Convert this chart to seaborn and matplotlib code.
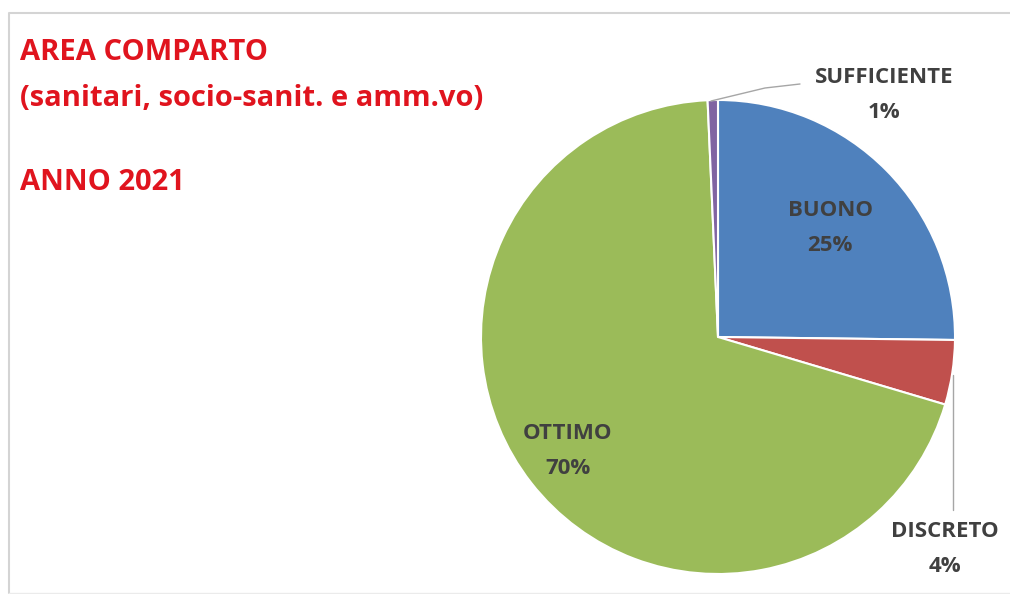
import matplotlib
matplotlib.use("Agg")
import matplotlib.pyplot as plt
import seaborn as sns
from matplotlib.lines import Line2D

# Data (clockwise from 12 o'clock)
categories = ['BUONO', 'DISCRETO', 'OTTIMO', 'SUFFICIENTE']
values = [25.2, 4.4, 69.7, 0.7]
slice_colors = ['#4F81BD', '#C0504D', '#9BBB59', '#8064A2']
title_lines = ['AREA COMPARTO', '(sanitari, socio-sanit. e amm.vo)', '', 'ANNO 2021']

sns.set_theme(style='white')
plt.rcParams['font.family'] = ['Open Sans', 'DejaVu Sans']

W, H = 1010, 594
fig = plt.figure(figsize=(W / 100, H / 100), dpi=100)
fig.patch.set_facecolor('white')

# light grey chart-area border (left, top, bottom)
bx = [9 / W, 9 / W, 1.0]
by = [1 - 593 / H, 1 - 13 / H, 1 - 13 / H]
fig.lines.append(Line2D(bx, by, transform=fig.transFigure, color='#D4D4D4', linewidth=1.5))
fig.lines.append(Line2D([9 / W, 1.0], [1 - 593 / H] * 2, transform=fig.transFigure,
                        color='#EBEBEB', linewidth=1))

# pie axes: centre (718, 337), radius 237 px
cx, cy, r = 718, 337, 237
ax = fig.add_axes([(cx - r) / W, (H - cy - r) / H, 2 * r / W, 2 * r / H])
wedges, _ = ax.pie(values, colors=sns.color_palette(slice_colors), startangle=90,
                   counterclock=False, wedgeprops=dict(edgecolor='white', linewidth=1.5))
ax.set_xlim(-1, 1)
ax.set_ylim(-1, 1)
ax.set_aspect('equal')
ax.axis('off')


def px(x, y):
    return ((x - cx) / r, (cy - y) / r)


label_color = '#404040'
lbl = {c: f"{c}\n{round(v)}%" for c, v in zip(categories, values)}
fs = 16
ls = 1.85
ax.text(*px(830, 228), lbl['BUONO'], ha='center', va='center', fontsize=fs,
        fontweight='bold', color=label_color, linespacing=ls)
ax.text(*px(568, 451), lbl['OTTIMO'], ha='center', va='center', fontsize=fs,
        fontweight='bold', color=label_color, linespacing=ls)
ax.text(*px(884, 95), lbl['SUFFICIENTE'], ha='center', va='center', fontsize=fs,
        fontweight='bold', color=label_color, linespacing=ls, clip_on=False)
ax.text(*px(945, 549), lbl['DISCRETO'], ha='center', va='center', fontsize=fs,
        fontweight='bold', color=label_color, linespacing=ls, clip_on=False)

# leader lines
lx, ly = zip(px(711, 101), px(765, 88), px(800, 84))
ax.plot(lx, ly, color='#A6A6A6', linewidth=1, clip_on=False)
lx, ly = zip(px(953, 375), px(953, 510))
ax.plot(lx, ly, color='#A6A6A6', linewidth=1, clip_on=False)

# title block in red
title_y = [53, 99, 141, 183]
for t, y in zip(title_lines, title_y):
    fig.text(20 / W, 1 - y / H, t, ha='left', va='center', fontsize=21,
             fontweight='bold', color='#E0141E')

fig.savefig('out.png', dpi=100, facecolor='white')
